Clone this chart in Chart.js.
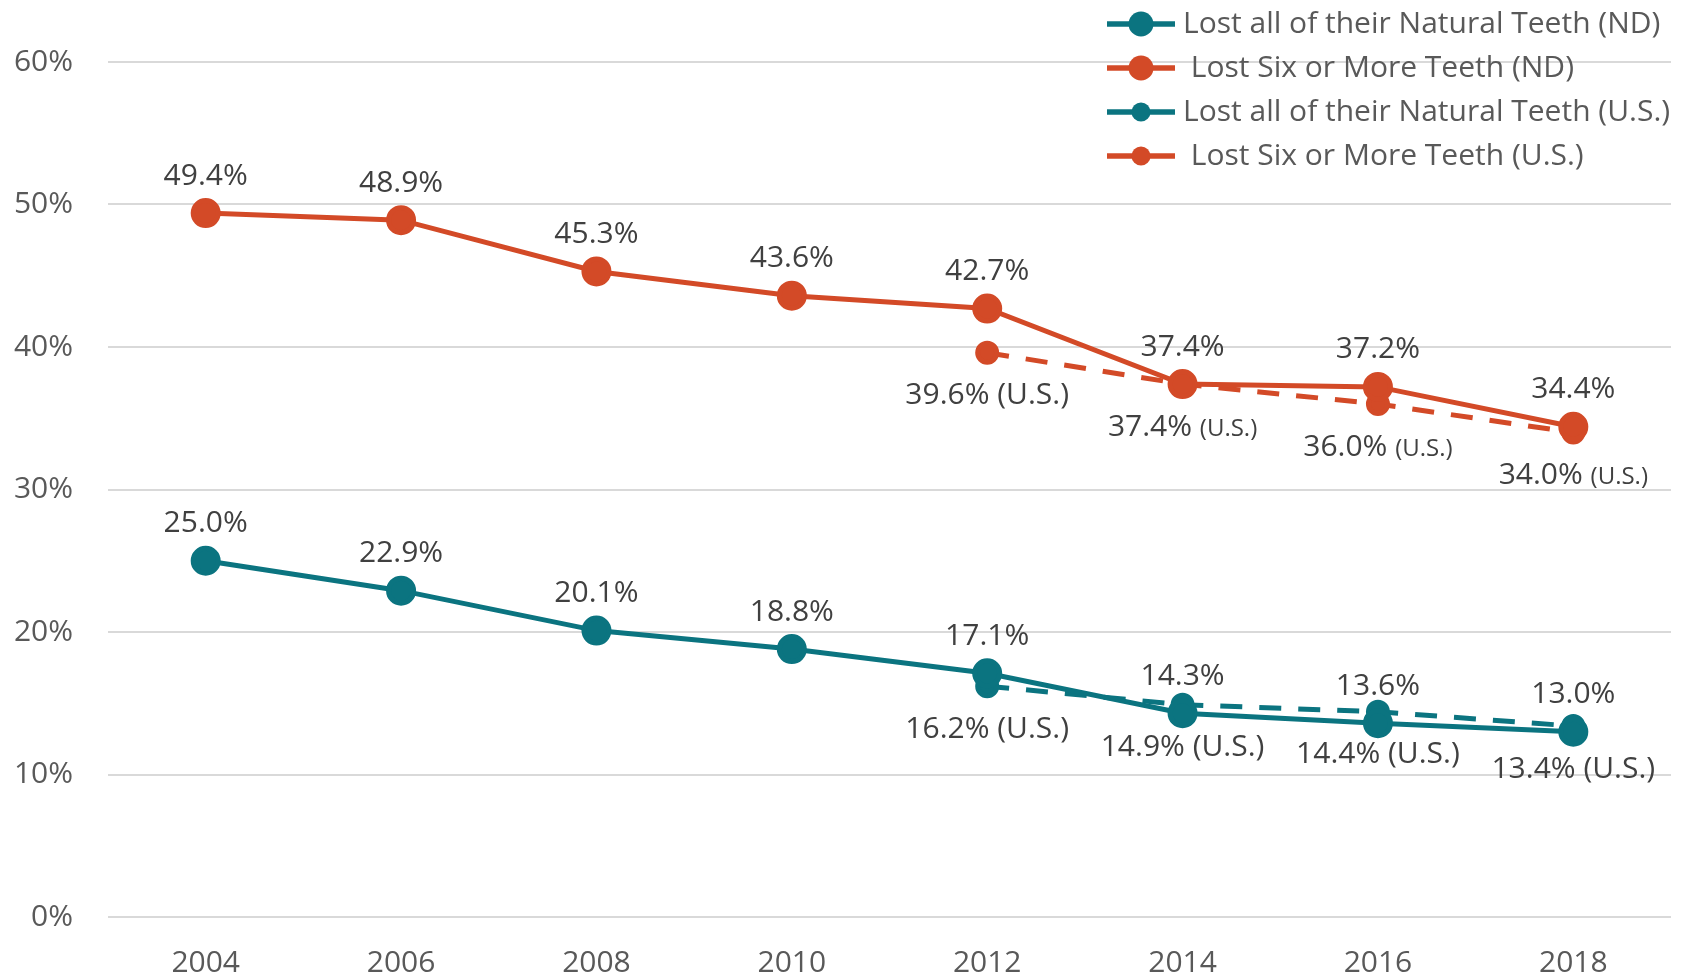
<!DOCTYPE html>
<html>
<head>
<meta charset="utf-8">
<script src="https://cdn.jsdelivr.net/npm/chart.js@4/dist/chart.umd.min.js"></script>
<style>
  html, body { margin: 0; padding: 0; background: #fff; }
  #wrap { width: 1690px; height: 980px; }
</style>
</head>
<body>
<div id="wrap"><canvas id="chart" width="1690" height="980"></canvas></div>
<script>
// data
const years = ['2004', '2006', '2008', '2010', '2012', '2014', '2016', '2018'];
const allTeethND = [25.0, 22.9, 20.1, 18.8, 17.1, 14.3, 13.6, 13.0];
const sixTeethND = [49.4, 48.9, 45.3, 43.6, 42.7, 37.4, 37.2, 34.4];
const allTeethUS = [null, null, null, null, 16.2, 14.9, 14.4, 13.4];
const sixTeethUS = [null, null, null, null, 39.6, 37.4, 36.0, 34.0];
// which U.S. labels use the small "(U.S.)" suffix
const smallSuffixSixUS = [false, false, false, false, false, true, true, true];
const smallSuffixAllUS = [false, false, false, false, false, false, false, false];
const legendLabels = [
    'Lost all of their Natural Teeth (ND)',
    ' Lost Six or More Teeth (ND)',
    'Lost all of their Natural Teeth (U.S.)',
    ' Lost Six or More Teeth (U.S.)'
];

const TEAL = '#0b7480';
const ORANGE = '#d34a27';
const FONT = "'Open Sans', sans-serif";

// labels above (ND) / below (U.S.) each point
const pointLabels = {
    id: 'pointLabels',
    afterDatasetsDraw(chart) {
        const ctx = chart.ctx;
        ctx.save();
        ctx.fillStyle = '#404040';
        ctx.textBaseline = 'middle';
        chart.data.datasets.forEach((ds, i) => {
            const meta = chart.getDatasetMeta(i);
            meta.data.forEach((pt, j) => {
                const v = ds.data[j];
                if (v === null) return;
                const txt = v.toFixed(1) + '%';
                if (!ds.isUS) {
                    ctx.font = '30px ' + FONT;
                    ctx.textAlign = 'center';
                    ctx.fillText(txt, pt.x, pt.y - 37);
                } else {
                    const small = ds.smallSuffix[j];
                    ctx.font = '30px ' + FONT;
                    const w1 = ctx.measureText(txt + ' ').width;
                    ctx.font = (small ? '24px ' : '30px ') + FONT;
                    const w2 = ctx.measureText('(U.S.)').width;
                    let x = pt.x - (w1 + w2) / 2;
                    const y = pt.y + 43;
                    ctx.textAlign = 'left';
                    ctx.font = '30px ' + FONT;
                    ctx.fillText(txt + ' ', x, y);
                    ctx.font = (small ? '24px ' : '30px ') + FONT;
                    ctx.fillText('(U.S.)', x + w1, small ? y + 2 : y);
                }
            });
        });
        ctx.restore();
    }
};

// legend drawn over the top right of the plot
const lineLegend = {
    id: 'lineLegend',
    afterDraw(chart) {
        const ctx = chart.ctx;
        ctx.save();
        chart.data.datasets.forEach((ds, i) => {
            const y = 24 + i * 44;
            const x0 = 1107, x1 = 1175;
            ctx.strokeStyle = ds.borderColor;
            ctx.lineWidth = 5.5;
            ctx.setLineDash([]);
            ctx.beginPath();
            ctx.moveTo(x0, y);
            ctx.lineTo(x1, y);
            ctx.stroke();
            ctx.fillStyle = ds.borderColor;
            ctx.beginPath();
            ctx.arc((x0 + x1) / 2, y, ds.isUS ? 9.5 : 12.5, 0, Math.PI * 2);
            ctx.fill();
            ctx.fillStyle = '#595959';
            ctx.font = '30px ' + FONT;
            ctx.textAlign = 'left';
            ctx.textBaseline = 'middle';
            ctx.fillText(legendLabels[i], 1183, y);
        });
        ctx.restore();
    }
};

new Chart(document.getElementById('chart'), {
    type: 'line',
    data: {
        labels: years,
        datasets: [
            {
                label: legendLabels[0], data: allTeethND, isUS: false,
                borderColor: TEAL, backgroundColor: TEAL, borderWidth: 5,
                pointRadius: 12.5, pointHoverRadius: 12.5
            },
            {
                label: legendLabels[1], data: sixTeethND, isUS: false,
                borderColor: ORANGE, backgroundColor: ORANGE, borderWidth: 5,
                pointRadius: 12.5, pointHoverRadius: 12.5
            },
            {
                label: legendLabels[2], data: allTeethUS, isUS: true, smallSuffix: smallSuffixAllUS,
                borderColor: TEAL, backgroundColor: TEAL, borderWidth: 5, borderDash: [22, 17],
                pointRadius: 9.5, pointHoverRadius: 9.5
            },
            {
                label: legendLabels[3], data: sixTeethUS, isUS: true, smallSuffix: smallSuffixSixUS,
                borderColor: ORANGE, backgroundColor: ORANGE, borderWidth: 5, borderDash: [22, 17],
                pointRadius: 9.5, pointHoverRadius: 9.5
            }
        ]
    },
    options: {
        responsive: false,
        animation: false,
        layout: { padding: { top: 62, right: 19, left: 0, bottom: 0 } },
        plugins: {
            legend: { display: false },
            tooltip: { enabled: false }
        },
        scales: {
            x: {
                offset: true,
                grid: { display: false },
                border: { display: false },
                ticks: { color: '#595959', font: { family: FONT, size: 30 }, padding: 20 },
                afterFit(scale) { scale.height = 63; }
            },
            y: {
                min: 0,
                max: 60,
                grid: { color: '#d9d9d9', lineWidth: 2, drawTicks: false },
                border: { display: false },
                ticks: {
                    stepSize: 10,
                    color: '#595959',
                    font: { family: FONT, size: 30 },
                    padding: 35,
                    callback: v => v + '%'
                },
                afterFit(scale) { scale.width = 108; }
            }
        }
    },
    plugins: [pointLabels, lineLegend]
});
</script>
</body>
</html>
